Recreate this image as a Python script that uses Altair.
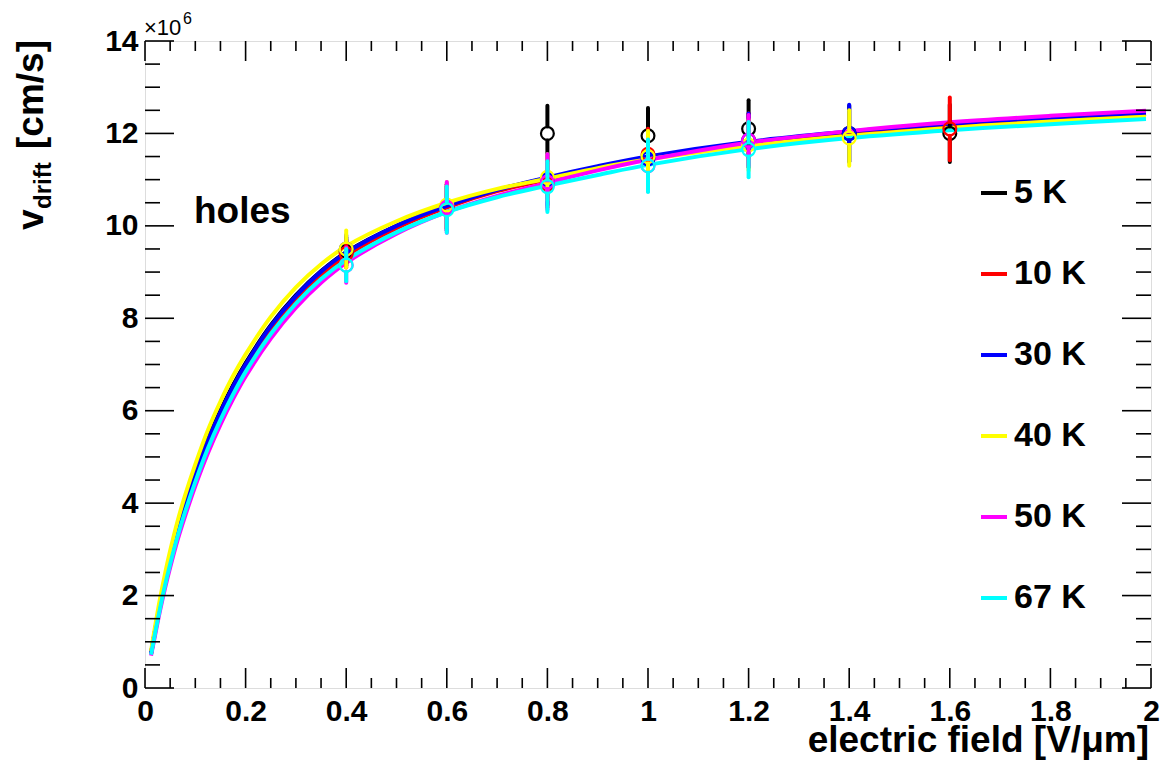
import altair as alt
import pandas as pd

# ---- curves (fitted drift velocity, in units of 1e6 cm/s) ----
temps = ["5 K", "10 K", "30 K", "40 K", "50 K", "67 K"]
colors = ["#000000", "#ff0000", "#0000ff", "#ffff00", "#ff00ff", "#00ffff"]

field_grid = [0.012, 0.02, 0.03, 0.04, 0.05, 0.065, 0.08, 0.1, 0.125, 0.15, 0.175, 0.2,
              0.25, 0.3, 0.35, 0.4, 0.5, 0.6, 0.7, 0.8, 0.9, 1.0, 1.2, 1.4, 1.6, 1.8, 1.99]

fit_5K = [0.75, 1.25, 1.83, 2.35, 2.82, 3.45, 4.00, 4.65, 5.38, 6.00, 6.55, 7.03,
          7.85, 8.50, 9.02, 9.43, 10.00, 10.43, 10.77, 11.03, 11.27, 11.47, 11.78, 12.00, 12.17, 12.31, 12.42]
fit_10K = [0.73, 1.21, 1.77, 2.28, 2.74, 3.36, 3.90, 4.54, 5.27, 5.89, 6.44, 6.93,
           7.75, 8.40, 8.93, 9.35, 9.95, 10.40, 10.75, 11.00, 11.25, 11.45, 11.78, 12.00, 12.18, 12.32, 12.42]
fit_30K = [0.75, 1.24, 1.81, 2.33, 2.80, 3.42, 3.97, 4.62, 5.35, 5.97, 6.52, 7.00,
           7.83, 8.48, 9.01, 9.42, 10.00, 10.43, 10.78, 11.05, 11.29, 11.50, 11.82, 12.04, 12.21, 12.34, 12.45]
fit_40K = [0.80, 1.33, 1.94, 2.48, 2.97, 3.62, 4.18, 4.84, 5.58, 6.20, 6.75, 7.22,
           8.03, 8.67, 9.17, 9.56, 10.10, 10.50, 10.80, 11.02, 11.25, 11.44, 11.73, 11.95, 12.12, 12.26, 12.36]
fit_50K = [0.70, 1.14, 1.68, 2.17, 2.61, 3.21, 3.73, 4.37, 5.08, 5.70, 6.25, 6.74,
           7.56, 8.23, 8.77, 9.20, 9.83, 10.30, 10.65, 10.93, 11.20, 11.43, 11.80, 12.05, 12.24, 12.38, 12.49]
fit_67K = [0.72, 1.18, 1.73, 2.23, 2.68, 3.29, 3.82, 4.46, 5.18, 5.80, 6.35, 6.84,
           7.66, 8.32, 8.85, 9.26, 9.86, 10.30, 10.62, 10.87, 11.10, 11.32, 11.66, 11.90, 12.07, 12.20, 12.31]
fits = [fit_5K, fit_10K, fit_30K, fit_40K, fit_50K, fit_67K]

# ---- measured points with errors ----
meas_field = [
    [0.4, 0.6, 0.8, 1.0, 1.2, 1.4, 1.6],
    [0.4, 0.6, 0.8, 1.0, 1.2, 1.6],
    [0.4, 0.6, 0.8, 1.0, 1.2, 1.4],
    [0.4, 0.6, 0.8, 1.0, 1.2, 1.4],
    [0.4, 0.6, 0.8, 1.0, 1.2],
    [0.4, 0.6, 0.8, 1.0, 1.2],
]
meas_v = [
    [9.45, 10.40, 12.00, 11.95, 12.10, 12.00, 12.00],
    [9.40, 10.40, 10.90, 11.55, 11.85, 12.10],
    [9.50, 10.40, 11.00, 11.45, 11.85, 12.00],
    [9.50, 10.45, 11.05, 11.50, 11.75, 11.90],
    [9.15, 10.40, 10.95, 11.30, 11.85],
    [9.15, 10.35, 10.85, 11.30, 11.65],
]
meas_err = [
    [0.30, 0.45, 0.60, 0.60, 0.62, 0.60, 0.62],
    [0.30, 0.50, 0.50, 0.55, 0.58, 0.68],
    [0.30, 0.50, 0.55, 0.55, 0.58, 0.62],
    [0.40, 0.50, 0.50, 0.55, 0.55, 0.60],
    [0.38, 0.55, 0.60, 0.55, 0.55],
    [0.35, 0.50, 0.55, 0.57, 0.60],
]

x_major = [0, 0.2, 0.4, 0.6, 0.8, 1.0, 1.2, 1.4, 1.6, 1.8, 2.0]
x_minor = [round(0.05 * i, 2) for i in range(41) if i % 4 != 0]
y_major = [0, 2, 4, 6, 8, 10, 12, 14]
y_minor = [0.5 * i for i in range(29) if i % 4 != 0]

W, H = 1006, 647
X_MAX, Y_MAX = 2.0, 14.0
FONT = "Liberation Sans"

xscale = alt.Scale(domain=[0, X_MAX], nice=False, zero=False)
yscale = alt.Scale(domain=[0, Y_MAX], nice=False, zero=False)
xaxis = alt.Axis(values=x_major, format="~g", ticks=False, domain=False, grid=False,
                 labelFont=FONT, labelFontSize=30, labelFontWeight="bold", labelColor="black",
                 labelPadding=8, labelFlush=False, title=None)
yaxis = alt.Axis(values=y_major, format="~g", ticks=False, domain=False, grid=False,
                 labelFont=FONT, labelFontSize=30, labelFontWeight="bold", labelColor="black",
                 labelPadding=7, labelFlush=False, title=None)


def X(f):
    return alt.X(f, type="quantitative", scale=xscale, axis=xaxis)


def Y(f):
    return alt.Y(f, type="quantitative", scale=yscale, axis=yaxis)


# curve table
rows = []
for t, fv in zip(temps, fits):
    for e, v in zip(field_grid, fv):
        rows.append({"temp": t, "field": e, "v": v})
curve_df = pd.DataFrame(rows)

curves = alt.Chart(curve_df).mark_line(strokeWidth=4, interpolate="catmull-rom", clip=True).encode(
    x=X("field"), y=Y("v"),
    color=alt.Color("temp:N", scale=alt.Scale(domain=temps, range=colors), sort=temps,
                    legend=alt.Legend(orient="none", legendX=832, legendY=135, title=None,
                                      symbolType="stroke", symbolSize=676, symbolStrokeWidth=4,
                                      labelFont=FONT, labelFontSize=34, labelFontWeight="bold",
                                      labelColor="black", labelOffset=3, rowPadding=47,
                                      padding=0)),
    detail="temp:N",
)

# error bars are split around the open marker, as drawn for hollow symbols
marker_r_px = 7
gap = marker_r_px * Y_MAX / H
layers = [curves]
for t, col, fe, fv, fr in zip(temps, colors, meas_field, meas_v, meas_err):
    seg = []
    for e, v, r in zip(fe, fv, fr):
        seg.append({"field": e, "lo": v - r, "hi": v - gap})
        seg.append({"field": e, "lo": v + gap, "hi": v + r})
    pts = pd.DataFrame({"field": fe, "v": fv})
    bars = alt.Chart(pd.DataFrame(seg)).mark_rule(strokeWidth=4, strokeCap="round", color=col).encode(
        x=X("field"), y=Y("lo"), y2="hi")
    circ = alt.Chart(pts).mark_point(shape="circle", filled=False, size=165, strokeWidth=2.2, color=col,
                                     opacity=1).encode(x=X("field"), y=Y("v"))
    layers += [bars, circ]


# inward ticks on all four sides, as short segments in data units
def tick_rows(vals, axis, length_px):
    out = []
    for p in vals:
        if axis == "bottom":
            out.append({"x": p, "x2": p, "y": 0.0, "y2": length_px * Y_MAX / H})
        elif axis == "top":
            out.append({"x": p, "x2": p, "y": Y_MAX, "y2": Y_MAX - length_px * Y_MAX / H})
        elif axis == "left":
            out.append({"x": 0.0, "x2": length_px * X_MAX / W, "y": p, "y2": p})
        else:
            out.append({"x": X_MAX, "x2": X_MAX - length_px * X_MAX / W, "y": p, "y2": p})
    return out


tick_df = pd.DataFrame(
    tick_rows(x_major, "bottom", 20) + tick_rows(x_minor, "bottom", 10)
    + tick_rows(x_major, "top", 20) + tick_rows(x_minor, "top", 10)
    + tick_rows(y_major, "left", 29) + tick_rows(y_minor, "left", 15)
    + tick_rows(y_major, "right", 29) + tick_rows(y_minor, "right", 15)
)
ticks = alt.Chart(tick_df).mark_rule(color="black", strokeWidth=1.6).encode(
    x=X("x"), x2="x2", y=Y("y"), y2="y2")

one = pd.DataFrame({"k": [0]})


def label(text, x, y, size, weight="bold", angle=0, align="left", baseline="alphabetic", font=FONT):
    return alt.Chart(one).mark_text(text=text, font=font, fontSize=size, fontWeight=weight,
                                    angle=angle, align=align, baseline=baseline, color="black").encode(
        x=alt.value(x), y=alt.value(y))


texts = [
    label("holes", 49, 182, 37),
    label("electric field [V/\u03bcm]", W - 2, 711, 37, align="right"),
    label("\u00d710", -1, -6, 22, weight="normal"),
    label("6", 38, -17, 16, weight="normal"),
    label("v", -102, 189, 37, angle=270),
    label("drift", -94, 168, 24, angle=270),
    label("[cm/s]", -102, 108, 37, angle=270),
]

chart = alt.layer(*(layers + [ticks] + texts)).properties(
    width=W, height=H,
    autosize=alt.AutoSizeParams(type="none"),
    padding={"left": 145, "top": 41, "right": 11, "bottom": 79},
).configure_view(stroke="black", strokeWidth=2).configure_axis(grid=False).configure(background="white")

chart.save("out.html", embed_options={"renderer": "svg", "actions": False})
